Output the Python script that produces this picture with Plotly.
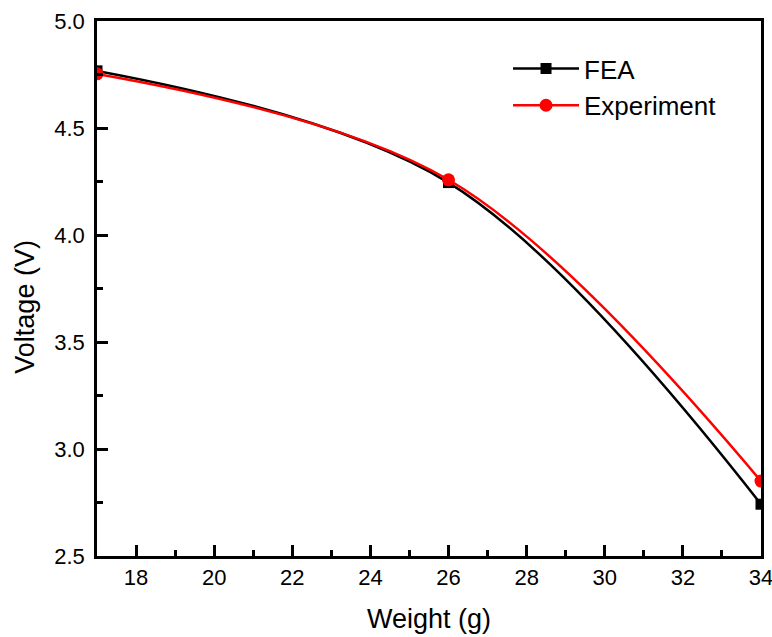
import plotly.graph_objects as go

weight = [17, 26, 34]
fea = [4.767, 4.245, 2.742]
experiment = [4.753, 4.258, 2.85]

FONT = "Arial, Liberation Sans, sans-serif"

fig = go.Figure()
fig.add_trace(go.Scatter(
    x=weight, y=fea, name="FEA", mode="lines+markers", cliponaxis=True,
    line=dict(color="black", width=2.5, shape="spline", smoothing=1.0),
    marker=dict(symbol="square", size=11, color="black"),
))
fig.add_trace(go.Scatter(
    x=weight, y=experiment, name="Experiment", mode="lines+markers", cliponaxis=True,
    line=dict(color="#ff0000", width=2.5, shape="spline", smoothing=1.0),
    marker=dict(symbol="circle", size=13, color="#ff0000"),
))

axis_common = dict(
    showgrid=False, zeroline=False, showline=True, linecolor="black", linewidth=2.5,
    mirror=True, ticks="inside", ticklen=11, tickwidth=2.5, tickcolor="black",
    tickfont=dict(family=FONT, size=22, color="black"), automargin=False,
    ticklabeloverflow="allow",
)

fig.update_xaxes(range=[17, 34], tick0=18, dtick=2,
                 minor=dict(ticks="inside", ticklen=6, tickwidth=2.5, dtick=1, tick0=17, tickcolor="black"),
                 **axis_common)
fig.update_yaxes(range=[2.5, 5.0], tick0=2.5, dtick=0.5, tickformat=".1f",
                 ticklabelstandoff=5,
                 minor=dict(ticks="inside", ticklen=6, tickwidth=2.5, dtick=0.25, tick0=2.5, tickcolor="black"),
                 **axis_common)

fig.update_layout(
    width=772, height=637,
    margin=dict(l=97, r=11, t=21, b=81, autoexpand=False),
    paper_bgcolor="white", plot_bgcolor="white",
    showlegend=True,
    legend=dict(x=0.619, y=0.955, xanchor="left", yanchor="top",
                font=dict(family=FONT, size=26, color="black"),
                bgcolor="rgba(0,0,0,0)", itemwidth=66, tracegroupgap=0),
    annotations=[
        dict(text="Weight (g)", xref="paper", yref="paper", x=0.5, y=0, yshift=-63,
             xanchor="center", yanchor="middle", showarrow=False,
             font=dict(family=FONT, size=27, color="black")),
        dict(text="Voltage (V)", xref="paper", yref="paper", x=0, xshift=-72, y=0.466,
             xanchor="center", yanchor="middle", showarrow=False, textangle=-90,
             font=dict(family=FONT, size=27, color="black")),
    ],
)

fig.write_html("out.html")
